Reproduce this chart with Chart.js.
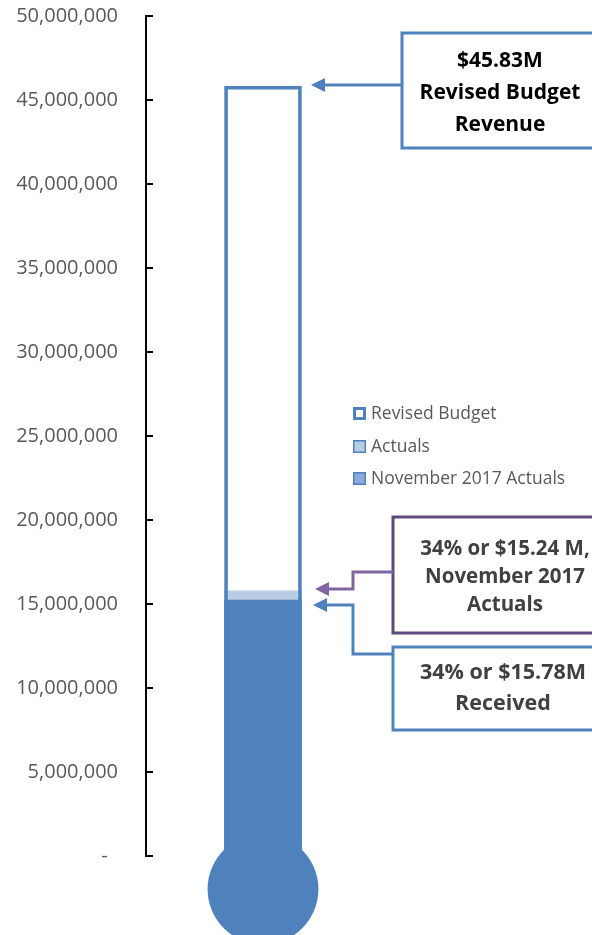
<!DOCTYPE html>
<html>
<head>
<meta charset="utf-8">
<script src="https://cdn.jsdelivr.net/npm/chart.js@4.4.1/dist/chart.umd.min.js"></script>
<style>
  html, body { margin: 0; padding: 0; background: #fff; }
  #wrap { width: 592px; height: 935px; position: relative; }
  canvas { background: #fff; }
</style>
</head>
<body>
<div id="wrap"><canvas id="thermo"></canvas></div>
<script>
// --- DATA ---
const categories = ['Revenue'];
const seriesLabels = ['Revised Budget', 'Actuals', 'November 2017 Actuals'];
const revisedBudget = [45830000];
const actuals = [15780000];
const novemberActuals = [15240000];
const yTickStep = 5000000;
const yMax = 50000000;

const budgetCallout = ['$45.83M', 'Revised Budget', 'Revenue'];
const novemberCallout = ['34% or $15.24 M,', 'November 2017', 'Actuals'];
const receivedCallout = ['34% or $15.78M', 'Received'];

// --- COLOURS ---
const BLUE = '#4F81BD';
const LIGHT_BLUE = '#B9CDE5';
const MID_BLUE = '#8EAADB';
const PURPLE_DARK = '#604A7B';
const PURPLE = '#8064A2';
const FONT = "'Open Sans', 'Noto Sans', sans-serif";

// tick marks on the inner side of the axis
const tickMarks = {
    id: 'tickMarks',
    afterDraw(chart) {
        const { ctx, chartArea } = chart;
        const scale = chart.scales.y;
        ctx.save();
        ctx.strokeStyle = '#000';
        ctx.lineWidth = 2;
        scale.ticks.forEach((t, i) => {
            const y = Math.round(scale.getPixelForTick(i));
            ctx.beginPath();
            ctx.moveTo(chartArea.left, y);
            ctx.lineTo(chartArea.left + 7, y);
            ctx.stroke();
        });
        ctx.restore();
    }
};

// bulb under the bar
const bulb = {
    id: 'bulb',
    afterDatasetsDraw(chart) {
        const meta = chart.getDatasetMeta(2);
        const bar = meta.data[0];
        if (!bar) return;
        const { x, base, width } = bar.getProps(['x', 'base', 'width'], true);
        const ctx = chart.ctx;
        ctx.save();
        ctx.fillStyle = BLUE;
        ctx.beginPath();
        ctx.arc(x, base + width * 0.43, width * 0.72, 0, Math.PI * 2);
        ctx.fill();
        ctx.restore();
    }
};

// legend in the middle right
const sideLegend = {
    id: 'sideLegend',
    afterDraw(chart) {
        const ctx = chart.ctx;
        const swatches = [
            { fill: '#fff', border: 3 },
            { fill: LIGHT_BLUE, border: 1.5 },
            { fill: MID_BLUE, border: 1.5 }
        ];
        const rows = [414, 447, 479];
        ctx.save();
        ctx.font = `17.5px ${FONT}`;
        ctx.textBaseline = 'middle';
        ctx.textAlign = 'left';
        chart.data.datasets.forEach((ds, i) => {
            const y = rows[i];
            const s = swatches[i];
            ctx.fillStyle = BLUE;
            ctx.fillRect(353, y - 7, 13, 13);
            ctx.fillStyle = s.fill;
            ctx.fillRect(353 + s.border, y - 7 + s.border, 13 - 2 * s.border, 13 - 2 * s.border);
            ctx.fillStyle = '#595959';
            ctx.fillText(ds.label, 371, y);
        });
        ctx.restore();
    }
};

function drawBox(ctx, x, y, w, h, color, lines, font, lineGap, cx, firstY, textColor) {
    ctx.strokeStyle = color;
    ctx.lineWidth = 3;
    ctx.strokeRect(x, y, w, h);
    ctx.fillStyle = textColor;
    ctx.font = font;
    ctx.textAlign = 'center';
    ctx.textBaseline = 'middle';
    lines.forEach((line, i) => ctx.fillText(line, cx, firstY + i * lineGap));
}

function drawArrow(ctx, pts, color) {
    const tip = pts[pts.length - 1];
    ctx.strokeStyle = color;
    ctx.fillStyle = color;
    ctx.lineWidth = 3;
    ctx.beginPath();
    ctx.moveTo(pts[0][0], pts[0][1]);
    for (let i = 1; i < pts.length - 1; i++) ctx.lineTo(pts[i][0], pts[i][1]);
    ctx.lineTo(tip[0] + 10, tip[1]);
    ctx.stroke();
    ctx.beginPath();
    ctx.moveTo(tip[0], tip[1]);
    ctx.lineTo(tip[0] + 14, tip[1] - 7);
    ctx.lineTo(tip[0] + 14, tip[1] + 7);
    ctx.closePath();
    ctx.fill();
}

const callouts = {
    id: 'callouts',
    afterDraw(chart) {
        const ctx = chart.ctx;
        const y = chart.scales.y;
        const yBudget = Math.round(y.getPixelForValue(revisedBudget[0])) - 1;
        const yActuals = Math.round(y.getPixelForValue(actuals[0])) - 2;
        const yNov = Math.round(y.getPixelForValue(novemberActuals[0])) + 5;
        ctx.save();
        drawBox(ctx, 402, 33, 220, 115, BLUE, budgetCallout, `bold 21px ${FONT}`, 32, 500, 61, '#000');
        drawArrow(ctx, [[402, yBudget], [311, yBudget]], BLUE);

        drawBox(ctx, 393, 517, 230, 116, PURPLE_DARK, novemberCallout, `bold 20.5px ${FONT}`, 28, 505, 549, '#404040');
        drawArrow(ctx, [[393, 572], [353, 572], [353, yActuals], [315, yActuals]], PURPLE);

        drawBox(ctx, 393, 647, 230, 83, BLUE, receivedCallout, `bold 21.5px ${FONT}`, 31, 503, 673, '#404040');
        drawArrow(ctx, [[393, 654], [353, 654], [353, yNov], [313, yNov]], BLUE);
        ctx.restore();
    }
};

new Chart(document.getElementById('thermo'), {
    type: 'bar',
    data: {
        labels: categories,
        datasets: [
            {
                label: seriesLabels[0],
                data: revisedBudget,
                backgroundColor: 'rgba(255,255,255,0)',
                borderColor: BLUE,
                borderWidth: 3,
                borderSkipped: false,
                order: 0
            },
            {
                label: seriesLabels[1],
                data: actuals,
                backgroundColor: LIGHT_BLUE,
                borderWidth: 0,
                order: 2
            },
            {
                label: seriesLabels[2],
                data: novemberActuals,
                backgroundColor: BLUE,
                borderWidth: 0,
                order: 1
            }
        ]
    },
    options: {
        responsive: true,
        maintainAspectRatio: false,
        animation: false,
        layout: { padding: { top: 16, right: 212, bottom: 79, left: 0 } },
        datasets: { bar: { barThickness: 77 } },
        plugins: {
            legend: { display: false },
            tooltip: { enabled: false }
        },
        scales: {
            x: { display: false, stacked: true },
            y: {
                stacked: false,
                min: 0,
                max: yMax,
                afterFit: (scale) => {
                    scale.width = 146;
                    scale.paddingTop = 0;
                    scale.paddingBottom = 0;
                },
                grid: { display: false, drawTicks: false },
                border: { display: true, color: '#000', width: 2 },
                ticks: {
                    stepSize: yTickStep,
                    padding: 28,
                    color: '#595959',
                    font: { family: FONT, size: 20 },
                    callback: (v) => v === 0 ? '-  ' : v.toLocaleString('en-US')
                }
            }
        }
    },
    plugins: [bulb, tickMarks, sideLegend, callouts]
});
</script>
</body>
</html>
